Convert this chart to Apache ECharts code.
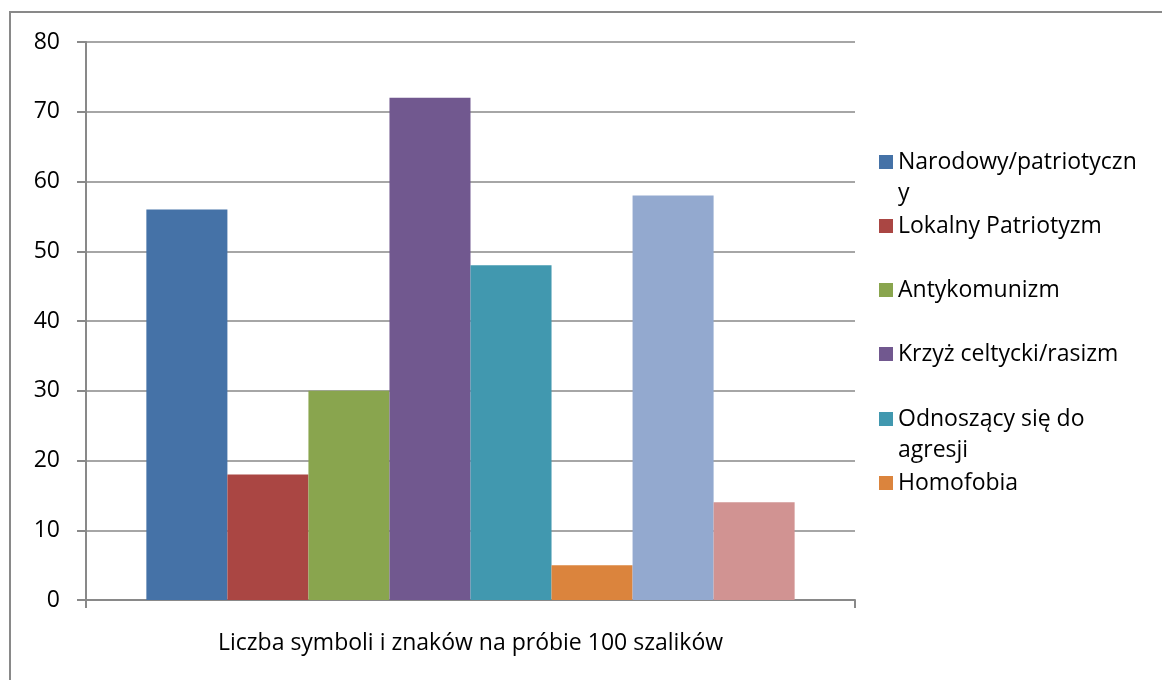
<!DOCTYPE html>
<html>
<head>
<meta charset="utf-8">
<script src="https://cdn.jsdelivr.net/npm/echarts@6/dist/echarts.min.js"></script>
<style>
	html,body{margin:0;padding:0;background:#fff;}
	#main{width:1162px;height:680px;}
</style>
</head>
<body>
<div id="main"></div>
<script>
var categories = ['Liczba symboli i znaków na próbie 100 szalików'];
var seriesNames = ['Narodowy/patriotyczny', 'Lokalny Patriotyzm', 'Antykomunizm', 'Krzyż celtycki/rasizm', 'Odnoszący się do agresji', 'Homofobia', 'Seria 7', 'Seria 8'];
var seriesValues = [56, 18, 30, 72, 48, 5, 58, 14];
var legendLabels = ['Narodowy/patriotyczn\ny', 'Lokalny Patriotyzm', 'Antykomunizm', 'Krzyż celtycki/rasizm', 'Odnoszący się do\nagresji', 'Homofobia'];
var yTicks = [0, 10, 20, 30, 40, 50, 60, 70, 80];

var colors = ['#4572A7', '#AA4643', '#89A54E', '#71588F', '#4198AF', '#DB843D', '#93A9CF', '#D19392'];
var gray = '#898989';
var font = 'Open Sans';

var Chart = {
	lineH: 31,
	// środki ikon legendy (jak w oryginale)
	legendCenters: [162, 226, 290, 354, 419, 483],
	init:function(){
		var myChart = echarts.init(document.getElementById('main'), null, {renderer:'canvas'});
		myChart.setOption(this.options());
	},
	legends:function(){
		var that = this;
		var out = [];
		for (var i = 0; i < legendLabels.length; i++) {
			var lines = legendLabels[i].split('\n').length;
			// pusta linia na górze, żeby ikona stała przy pierwszym wierszu
			var label = lines > 1 ? ' \n' + legendLabels[i] : legendLabels[i];
			var total = lines > 1 ? lines * 2 - 1 : 1;
			out.push({
				left: 879,
				top: that.legendCenters[i] - that.lineH * total / 2,
				orient: 'vertical',
				padding: 0,
				itemWidth: 14,
				itemHeight: 14,
				icon: 'rect',
				selectedMode: false,
				data: [seriesNames[i]],
				formatter: (function(lbl){ return function(){ return lbl; }; })(label),
				textStyle: {
					fontFamily: font,
					fontSize: 23,
					color: '#000',
					lineHeight: that.lineH
				}
			});
		}
		return out;
	},
	options:function(){
		var series = [];
		for (var i = 0; i < seriesNames.length; i++) {
			series.push({
				name: seriesNames[i],
				type: 'bar',
				barGap: '0%',
				barCategoryGap: '15.7%',
				itemStyle: {color: colors[i]},
				data: [seriesValues[i]]
			});
		}
		return {
			animation: false,
			color: colors,
			graphic: [{
				type: 'rect',
				shape: {x: 10, y: 12, width: 1200, height: 720},
				style: {fill: 'none', stroke: gray, lineWidth: 2},
				silent: true
			}],
			legend: this.legends(),
			grid: {left: 86, right: 307, top: 42, bottom: 80},
			xAxis: {
				type: 'category',
				data: categories,
				axisLine: {lineStyle: {color: gray, width: 2}},
				axisTick: {show: true, length: 8, lineStyle: {color: gray, width: 2}},
				axisLabel: {fontFamily: font, fontSize: 23, color: '#000', margin: 32}
			},
			yAxis: {
				type: 'value',
				min: yTicks[0],
				max: yTicks[yTicks.length - 1],
				interval: 10,
				axisLine: {show: true, lineStyle: {color: gray, width: 2}},
				axisTick: {show: true, length: 9, lineStyle: {color: gray, width: 2}},
				axisLabel: {fontFamily: font, fontSize: 23, color: '#000', margin: 26},
				splitLine: {lineStyle: {color: gray, width: 1.5}}
			},
			series: series
		};
	}
};

Chart.init();
</script>
</body>
</html>
